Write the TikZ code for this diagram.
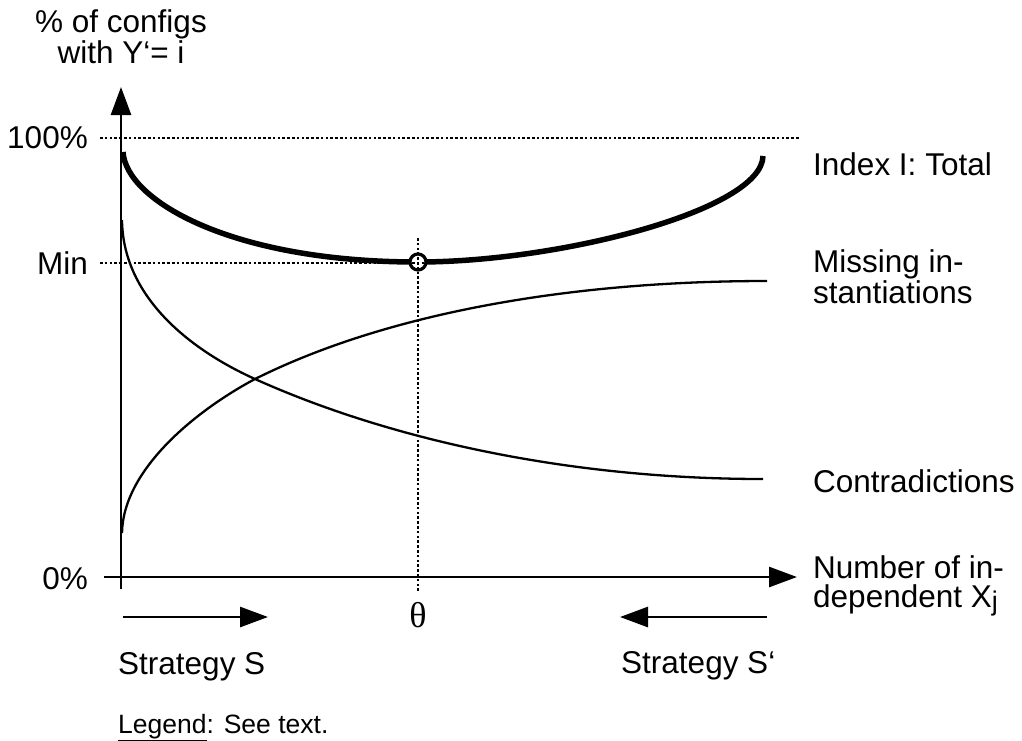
\documentclass[tikz,border=0pt]{standalone}
\usepackage{fontspec}
\setmainfont{Liberation Sans}
\newfontfamily\serifgreek{Liberation Serif}
\usetikzlibrary{arrows.meta}
\begin{document}
\begin{tikzpicture}[x=1pt,y=-1pt,
  lbl/.style={inner sep=0pt, font=\fontsize{31.5}{31.5}\selectfont},
  smalllbl/.style={inner sep=0pt, font=\fontsize{26.5}{26.5}\selectfont},
  axisline/.style={line width=2.8pt},
  tipped/.style={-{Triangle[length=28pt,width=20pt]}},
  dotline/.style={line width=2.6pt, dash pattern=on 2.5pt off 2.3pt},
  thincurve/.style={line width=2.3pt},
  thickcurve/.style={line width=5.5pt},
  marker/.style={circle, draw, fill=white, line width=3.2pt, minimum size=16pt, inner sep=0pt}]
\useasboundingbox (0,0) rectangle (1022,740);

% dotted guide line at 100%
\coordinate (hA) at (100,138);
\coordinate (hB) at (800,138);
\draw[dotline] (hA) -- (hB);

% curves
\coordinate (totA) at (123,152);
\coordinate (totM) at (418,262);
\coordinate (totB) at (763,156);
\draw[thickcurve] (totA) .. controls (126,200) and (230,262) .. (totM)
                         .. controls (560,262) and (762,210) .. (totB);
\coordinate (misA) at (122,533);
\coordinate (cross) at (255,379);
\coordinate (misB) at (767,281);
\draw[thincurve] (misA) .. controls (123,470) and (195,411) .. (cross)
                        .. controls (385,314) and (567,281) .. (misB);
\coordinate (conA) at (122,220);
\coordinate (conB) at (763,479);
\draw[thincurve] (conA) .. controls (123,300) and (195,352) .. (cross)
                        .. controls (385,437.5) and (563,479) .. (conB);

% marker and theta lines
\node[marker] (minpt) at (418,262) {};
\coordinate (mA) at (100,263);
\coordinate (mB) at (437,263);
\coordinate (vA) at (418,238);
\coordinate (vB) at (418,592);
\draw[dotline] (mA) -- (mB);
\draw[dotline] (vA) -- (vB);

% axes
\coordinate (yb) at (121,589);
\coordinate (yt) at (121,87);
\coordinate (xa) at (104,577);
\coordinate (xt) at (797,577);
\draw[axisline,tipped] (yb) -- (yt);
\draw[axisline,tipped] (xa) -- (xt);

% strategy arrows
\coordinate (sA) at (123,617);
\coordinate (sB) at (268,617);
\coordinate (tA) at (767,617);
\coordinate (tB) at (620,617);
\draw[axisline,tipped] (sA) -- (sB);
\draw[axisline,tipped] (tA) -- (tB);

% texts
\node[lbl, anchor=base] (ylab1) at (121,32) {\% of configs};
\node[lbl, anchor=base] (ylab2) at (121,63) {with Y‘= i};
\node[lbl, anchor=base east] (p100) at (88,148) {100\%};
\node[lbl, anchor=base east] (pmin) at (88,274) {Min};
\node[lbl, anchor=base east] (p0) at (88,589) {0\%};
\node[lbl, anchor=base west] (ltot) at (813,175) {Index I: Total};
\node[lbl, anchor=base west] (lmis1) at (813,272) {Missing in-};
\node[lbl, anchor=base west] (lmis2) at (813,303) {stantiations};
\node[lbl, anchor=base west] (lcon) at (813,492) {Contradictions};
\node[lbl, anchor=base west] (lnum1) at (813,578) {Number of in-};
\node[lbl, anchor=base west] (lnum2) at (813,607) {dependent X\raisebox{-3pt}{\fontsize{27}{27}\selectfont j}};
\node[inner sep=0pt, anchor=base, font=\serifgreek\fontsize{36}{36}\selectfont] (theta) at (418,627) {θ};
\node[lbl, anchor=base west] (lS) at (118,674) {Strategy S};
\node[lbl, anchor=base west] (lS2) at (621,673) {Strategy S‘};
\node[smalllbl, anchor=base west] (leg) at (118,733) {\underline{Legend}: See text.};
\end{tikzpicture}
\end{document}
